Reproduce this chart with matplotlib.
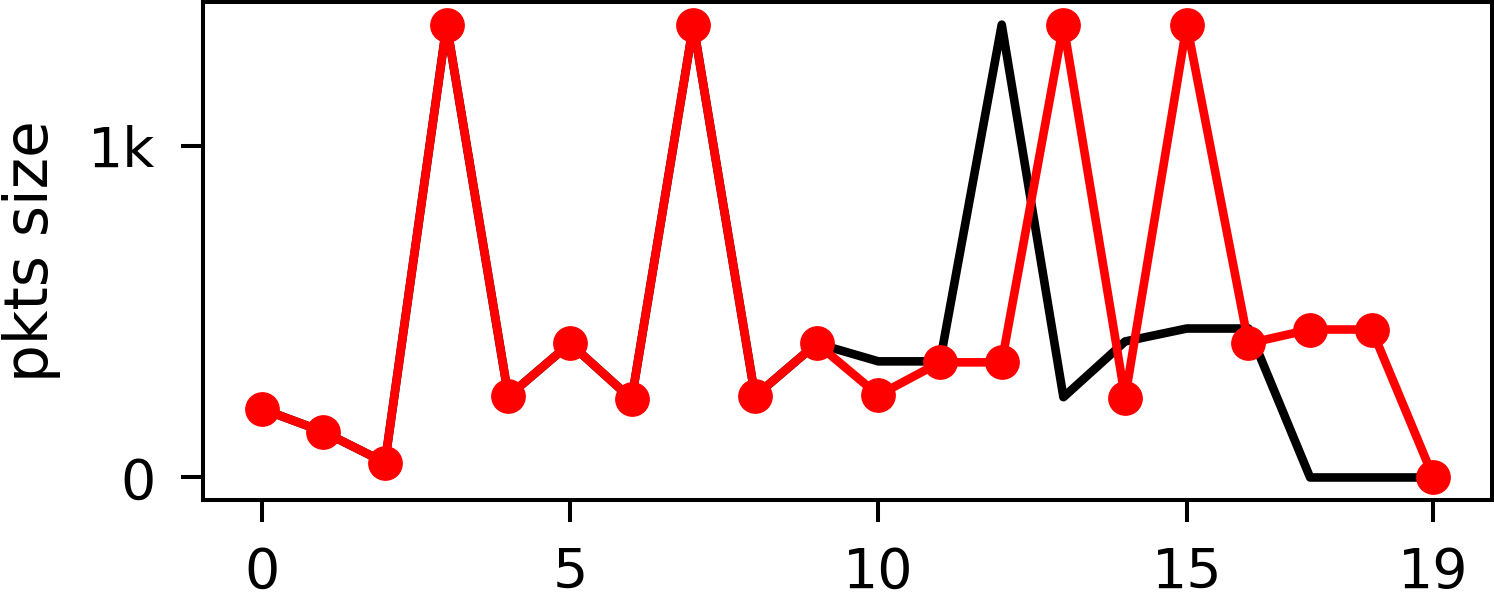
import numpy as np
import matplotlib
matplotlib.use('Agg')
from matplotlib import pyplot as plt
from matplotlib.ticker import FuncFormatter

# packet index and sizes
idx = list(range(20))
black_sizes = [207, 138, 45, 1365, 245, 404, 236, 1365, 245, 404,
               350, 350, 1365, 242, 410, 449, 449, 0, 0, 0]
red_sizes = [207, 138, 45, 1365, 245, 404, 236, 1365, 245, 404,
             248, 347, 347, 1365, 240, 1365, 404, 446, 446, 0]
xticks = [0, 5, 10, 15, 19]
yticks = [0, 1000]
ylabel = 'pkts size'

fig = plt.figure(figsize=(14.94, 6.04), dpi=100)
ax = fig.add_axes([0.1359, 0.172, 0.8628, 0.8247])

ax.plot(idx, black_sizes, color='black', lw=6.2, solid_joinstyle='round')
ax.plot(idx, red_sizes, color='red', lw=6.2, marker='o', markersize=24,
        solid_joinstyle='round')

ax.set_xticks(xticks)
ax.set_yticks(yticks)
ax.yaxis.set_major_formatter(FuncFormatter(lambda v, p: '%dk' % (v / 1000) if v else '0'))
ax.tick_params(labelsize=40, length=16, width=2.9)
ax.tick_params(axis='x', pad=17)
ax.tick_params(axis='y', pad=18)
for s in ax.spines.values():
    s.set_linewidth(2.9)
ax.set_ylabel(ylabel, fontsize=43, labelpad=20)

fig.savefig('out.png', dpi=100)
